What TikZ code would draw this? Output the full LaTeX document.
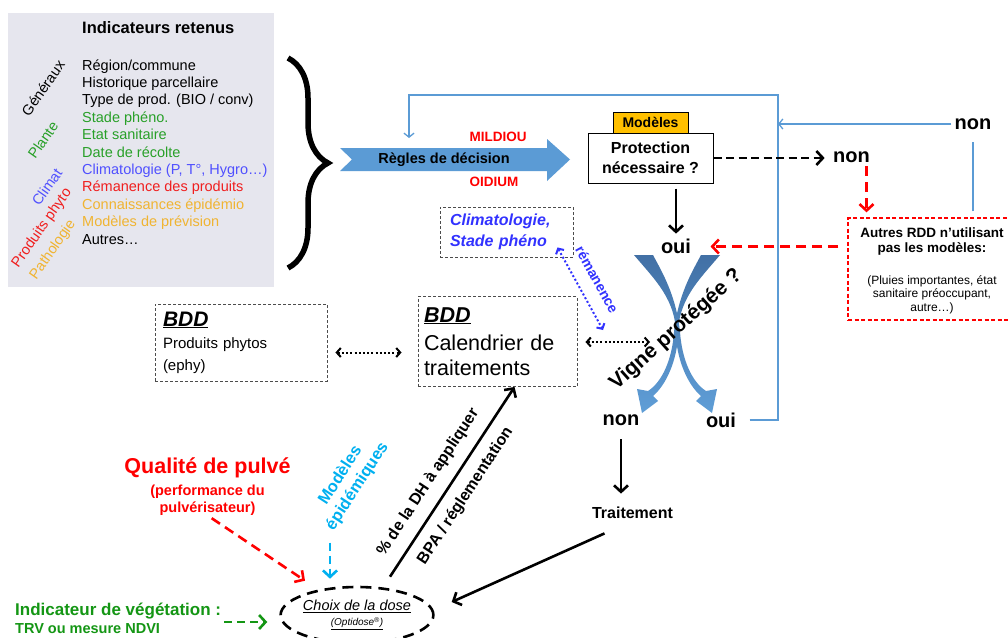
\documentclass[tikz,border=0pt]{standalone}
\usepackage{fontspec}
\setmainfont{Liberation Sans}
\usetikzlibrary{arrows.meta,decorations.pathreplacing,shapes.geometric,calc}
\newcommand{\myfs}[2]{\fontsize{#1}{#2}\selectfont}
\definecolor{gbox}{RGB}{230,230,238}
\definecolor{lgreen}{RGB}{40,160,40}
\definecolor{lblue}{RGB}{80,80,255}
\definecolor{lred}{RGB}{240,30,30}
\definecolor{lorange}{RGB}{240,180,50}
\definecolor{arrowblue}{RGB}{91,155,213}
\definecolor{modorange}{RGB}{255,192,0}
\definecolor{cyantwo}{RGB}{0,176,240}
\definecolor{climblue}{RGB}{50,50,255}
\definecolor{vgreen}{RGB}{20,150,20}
\definecolor{swA}{RGB}{66,112,165}
\definecolor{swB}{RGB}{95,158,215}
\tikzset{
  lst/.style={anchor=base west, inner sep=0pt, font=\myfs{14.5}{17}},
  cat/.style={rotate=55, inner sep=0pt, font=\myfs{14.5}{17}},
  blk/.style={line width=2.6pt, -{Straight Barb[length=6.5pt,width=14pt]}},
  blkdash/.style={blk, dash pattern=on 8pt off 4.5pt},
  reddash/.style={blk, red, dash pattern=on 10pt off 6pt},
  cyandash/.style={blk, cyantwo, dash pattern=on 8pt off 5pt},
  greendash/.style={blk, vgreen, dash pattern=on 8pt off 5pt},
  dotarr/.style={line width=2pt, dash pattern=on 2pt off 2.2pt, {Straight Barb[length=4pt,width=9pt]}-{Straight Barb[length=4pt,width=9pt]}},
  remarr/.style={dotarr, climblue},
  thinblue/.style={line width=1.3pt, arrowblue},
  thinarr/.style={thinblue, -{Straight Barb[length=4pt,width=10pt]}},
  dbox/.style={draw=black!70, line width=0.9pt, dash pattern=on 3pt off 2pt},
  bignum/.style={font=\bfseries\myfs{20}{24}},
  swoosh/.style={top color=swA, bottom color=swB},
}
\begin{document}
\begin{tikzpicture}[x=1pt,y=-1pt]
\path[use as bounding box] (0,0) rectangle (1008,637);
\clip (0,0) rectangle (1008,637);
\fill[white] (0,0) rectangle (1008,637);

% indicator panel
\node[fill=gbox, minimum width=266pt, minimum height=274pt, anchor=north west, inner sep=0pt] (panel) at (8,13) {};
\node[lst, font=\bfseries\myfs{16.5}{20}] (title) at (82,33.5) {Indicateurs retenus};
\node[lst] (l1) at (82,70) {Région/commune};
\node[lst] (l2) at (82,87.4) {Historique parcellaire};
\node[lst] (l3) at (82,104.8) {Type de prod. (BIO / conv)};
\node[lst, text=lgreen] (l4) at (82,122.2) {Stade phéno.};
\node[lst, text=lgreen] (l5) at (82,139.6) {Etat sanitaire};
\node[lst, text=lgreen] (l6) at (82,157) {Date de récolte};
\node[lst, text=lblue] (l7) at (82,174.4) {Climatologie (P, T°, Hygro…)};
\node[lst, text=lred] (l8) at (82,191.8) {Rémanence des produits};
\node[lst, text=lorange] (l9) at (82,209.2) {Connaissances épidémio};
\node[lst, text=lorange] (l10) at (82,226.6) {Modèles de prévision};
\node[lst] (l11) at (82,244) {Autres…};
\node[cat] (c1) at (43,88) {Généraux};
\node[cat, text=lgreen] (c2) at (43,140) {Plante};
\node[cat, text=lblue] (c3) at (47,187) {Climat};
\node[cat, text=lred] (c4) at (42,228) {Produits phyto};
\node[cat, text=lorange] (c5) at (53,250) {Pathologie};

% brace
\draw[decorate, decoration={brace, amplitude=40pt}, line width=5.5pt] (288,58) -- (288,268);

% decision rules arrow
\fill[arrowblue] (340,148) -- (547,148) -- (547,139) -- (570,159.5) -- (547,181) -- (547,171) -- (340,171) -- (352,159.5) -- cycle;
\node[font=\bfseries\myfs{14.5}{17}] (rules) at (444,159.5) {Règles de décision};
\node[anchor=west, text=red, font=\bfseries\myfs{13.5}{16}] (mildiou) at (466,137) {MILDIOU};
\node[anchor=west, text=red, font=\bfseries\myfs{13.5}{16}] (oidium) at (466,182) {OIDIUM};

% protection box
\node[draw, line width=1pt, fill=white, minimum width=125pt, minimum height=50pt, align=center, font=\bfseries\myfs{16}{20}] (prot) at (650.5,158) {Protection\\nécessaire ?};
\node[draw, line width=1pt, fill=modorange, minimum width=75pt, minimum height=21pt, inner sep=0pt, font=\bfseries\myfs{14}{16}] (mod) at (650.5,122.5) {Modèles};

% labels oui / non
\node[bignum] (oui1) at (676,246.5) {oui};
\node[bignum] (non1) at (851.5,157) {non};
\node[bignum] (non2) at (973,124) {non};
\node[bignum] (non3) at (621,420) {non};
\node[bignum] (oui3) at (721,420) {oui};
\node[font=\bfseries\myfs{16}{19}] (trait) at (632.5,513) {Traitement};

% swooshes (crossed curved arrows)
\shade[swoosh]
  (634,255) -- (653,255) .. controls (662,272) and (676,295) .. (680,332)
  .. controls (682,360) and (692,382) .. (706,391)
  -- (717,389) -- (712,413) -- (696,401) -- (701,396)
  .. controls (688,385) and (678,362) .. (676,338)
  .. controls (677,300) and (655,280) .. (634,255) -- cycle;
\shade[swoosh]
  (720,255) -- (701,255) .. controls (692,272) and (678,295) .. (674,332)
  .. controls (672,360) and (662,382) .. (648,391)
  -- (637,389) -- (642,413) -- (658,401) -- (653,396)
  .. controls (666,385) and (676,362) .. (678,338)
  .. controls (677,300) and (699,280) .. (720,255) -- cycle;
\node[rotate=42, font=\bfseries\myfs{21}{24}] (vigne) at (676,330) {Vigne protégée ?};

% other RDD box
\node[draw=red, line width=1.3pt, dash pattern=on 4pt off 2.5pt, minimum width=168pt, minimum height=102pt] (autres) at (932,269) {};
\node[align=center, font=\bfseries\myfs{13.5}{15.5}] (at1) at (932,241.5) {Autres RDD n’utilisant\\pas les modèles:};
\node[align=center, font=\myfs{12}{13.5}] (at2) at (932,294.4) {(Pluies importantes, état\\sanitaire préoccupant,\\autre…)};

% databases
\node[dbox, minimum width=172pt, minimum height=77pt, text width=156pt, align=left, font=\myfs{15}{22}] (prod) at (241,342.5) {{\myfs{21}{22}\bfseries\itshape\underline{BDD}}\\Produits phytos\\(ephy)};
\node[dbox, minimum width=159pt, minimum height=90pt, text width=147pt, align=left, font=\myfs{21.5}{25}] (cal) at (497.5,341.5) {{\bfseries\itshape\underline{BDD}}\\[3pt]Calendrier de\\traitements};
\node[dbox, minimum width=133pt, minimum height=50pt, text width=113pt, align=left, text=climblue, font=\bfseries\itshape\myfs{16}{21}] (clim) at (506.5,232) {Climatologie,\\Stade phéno};

% dose choice
\node[ellipse, draw, line width=2.6pt, dash pattern=on 11pt off 7pt, minimum width=146pt, minimum height=56pt, inner sep=0pt, align=center, font=\itshape\myfs{14.5}{16}] (choix) at (357,615) {\underline{Choix de la dose}\\[-1pt]{\myfs{10}{12}\underline{(Optidose\textsuperscript{®})}}};

% inputs to dose
\node[text=red, font=\bfseries\myfs{21.5}{24}] (qual) at (207.5,467.5) {Qualité de pulvé};
\node[text=red, anchor=north, inner sep=0pt, align=center, font=\bfseries\myfs{14.5}{17}] (perf) at (207.5,484.5) {(performance du\\pulvérisateur)};
\node[rotate=57, text=cyantwo, align=center, font=\bfseries\myfs{16.5}{20}] (modepi) at (349,481) {Modèles\\épidémiques};
\node[lst, text=vgreen, font=\bfseries\myfs{17}{20}] (veg1) at (15,615) {Indicateur de végétation :};
\node[lst, text=vgreen, font=\bfseries\myfs{14.5}{17}] (veg2) at (15,633) {TRV ou mesure NDVI};

% ---- connectors ----
\coordinate (loopR) at (778,95);
\coordinate (loopL) at (409,95);
\coordinate (loopE) at (409,138);
\draw[thinarr, shorten <=10pt] (oui3.east) -| (loopR) -- (loopL) -- (loopE);
\draw[thinarr] (non2.west) -- (non2.west -| loopR);
\coordinate (b1) at (non2.south |- autres.north);
\draw[thinblue, shorten <=6pt, shorten >=9pt] (b1) -- (non2.south);

\draw[blk, shorten <=5pt, shorten >=2pt] (oui1.north |- prot.south) -- (oui1.north);
\draw[blkdash, shorten >=5pt] (prot.east) -- (prot.east -| non1.west);
\coordinate (r1) at ([xshift=15pt]non1.south);
\draw[reddash, shorten >=5pt] (r1) -- (r1 |- autres.north);
\coordinate (r2) at (autres.west |- oui1.east);
\draw[reddash, shorten <=9pt, shorten >=16pt] (r2) -- (oui1.east);

\draw[blk, shorten <=10pt, shorten >=10pt] (non3.south) -- (non3.south |- trait.north);
\draw[blk] ([shift={(16,11)}]trait.south west) -- ([shift={(17,-13)}]choix.east);
\draw[blk] ([shift={(33,-9)}]choix.north) -- ([xshift=17pt]cal.south)
  node[pos=0.44, sloped, above=11pt, inner sep=0pt, font=\bfseries\myfs{16}{19}] (dh) {\% de la DH à appliquer}
  node[pos=0.48, sloped, below=10pt, inner sep=0pt, font=\bfseries\myfs{16}{19}] (bpa) {BPA / réglementation};

\coordinate (d1) at ([yshift=-10pt]prod.east);
\draw[dotarr, shorten <=8pt, shorten >=16pt] (d1) -- (d1 -| cal.west);
\coordinate (vt) at (650,342);
\draw[dotarr, shorten <=8pt] (cal.east |- vt) -- (vt);
\coordinate (rt) at (603,330);
\draw[remarr] ([shift={(-16,-10)}]clim.south east) -- (rt)
  node[midway, sloped, above=13pt, inner sep=0pt, text=climblue, font=\bfseries\myfs{14}{16}] (rem) {rémanence};

\draw[reddash, shorten <=5pt] (perf.south) -- ([shift={(-52,-5)}]choix.north);
\draw[cyandash] ([shift={(-27,-43)}]choix.north) -- ([shift={(-27,-7)}]choix.north);
\coordinate (gtip) at ([shift={(-12,7)}]choix.west);
\draw[greendash] ([xshift=3pt]veg1.east |- gtip) -- (gtip);
\end{tikzpicture}
\end{document}
